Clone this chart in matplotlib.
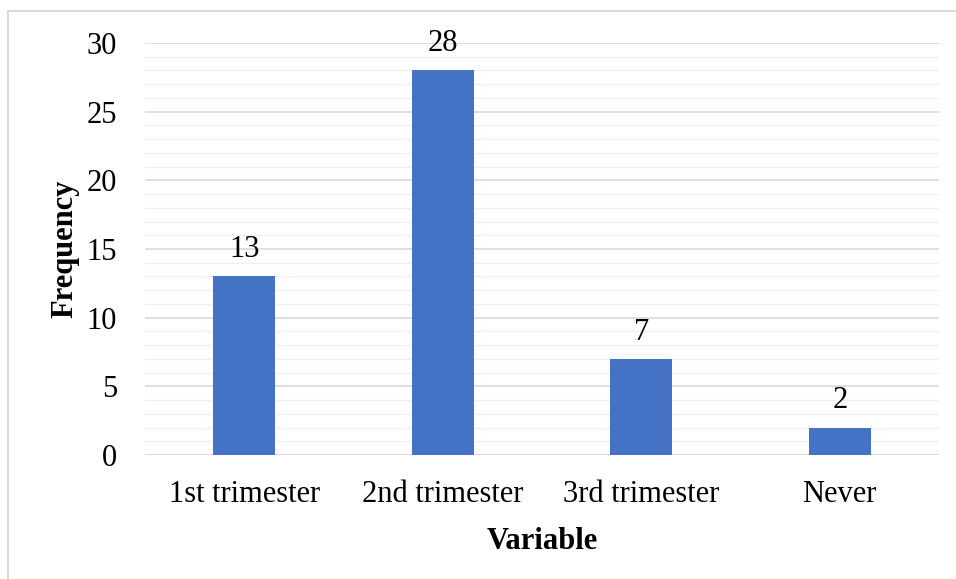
import matplotlib
matplotlib.use("Agg")
import matplotlib.pyplot as plt
from matplotlib.patches import Rectangle

categories = ["1st trimester", "2nd trimester", "3rd trimester", "Never"]
values = [13, 28, 7, 2]
yticks = [0, 5, 10, 15, 20, 25, 30]

plt.rcParams['font.family'] = ['Liberation Serif', 'DejaVu Serif']

fig = plt.figure(figsize=(9.56, 5.79), dpi=100)
W, H = 956, 579
ax = fig.add_axes([145/W, 1-455/H, (939-145)/W, (455-43)/H])

x = range(len(categories))
ax.bar(x, values, width=0.31, color="#4472C4", zorder=3)
for xi, v in zip(x, values):
    ax.text(xi, v + 0.9, str(v), ha="center", va="bottom", fontsize=22)

ax.set_xlim(-0.5, len(categories) - 0.5)
ax.set_ylim(0, 30)
ax.set_yticks(yticks)
ax.set_yticks(range(0, 31), minor=True)
ax.set_yticklabels([str(t) for t in yticks], fontsize=22)
ax.set_xticks(list(x))
ax.set_xticklabels(categories, fontsize=22)
ax.tick_params(axis='x', length=0, pad=18)
ax.tick_params(axis='y', length=0, pad=20)
ax.tick_params(axis='y', which='minor', length=0)
ax.grid(axis='y', which='major', color='#D9D9D9', linewidth=1.2, zorder=0)
ax.grid(axis='y', which='minor', color='#F0F0F0', linewidth=1.0, zorder=0)
for s in ax.spines.values():
    s.set_visible(False)
ax.axhline(0, color='#D9D9D9', linewidth=1.2, zorder=2)

ax.set_xlabel("Variable", fontsize=22, fontweight='bold', labelpad=13)
ax.set_ylabel("Frequency", fontsize=22, fontweight='bold', labelpad=5)

fig.patches.append(Rectangle((8/W, -0.1), 1.2, (579-11)/H + 0.1, transform=fig.transFigure,
                             fill=False, edgecolor='#D9D9D9', linewidth=1.5))

fig.savefig("out.png", dpi=100)
